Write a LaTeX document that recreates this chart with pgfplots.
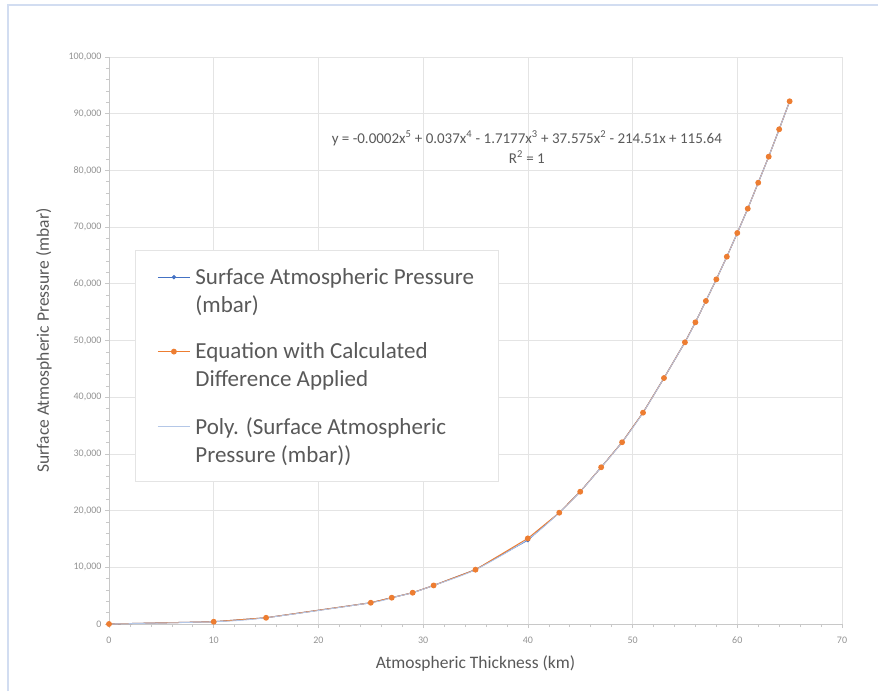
\documentclass[border=0pt]{standalone}
\usepackage{pgfplots}
\pgfplotsset{compat=1.18}
\usepackage{fontspec}
\setmainfont{Carlito}
\definecolor{xlblue}{HTML}{4472C4}
\definecolor{xlorange}{HTML}{ED7D31}
\definecolor{trend}{HTML}{B4C7E7}
\definecolor{gridc}{HTML}{E4E4E4}
\definecolor{axc}{HTML}{C8C8C8}
\definecolor{txt}{HTML}{595959}
\begin{document}
\begin{tikzpicture}
\path[use as bounding box] (-109pt,-67pt) rectangle (769pt,624pt);
\draw[color=trend!60, line width=1.5pt] (-101pt,-67pt) -- (-101pt,619pt) -- (769pt,619pt);
\begin{axis}[
  at={(0pt,0pt)}, anchor=south west,
  scale only axis, width=733pt, height=567pt,
  xmin=0, xmax=70, ymin=0, ymax=100000,
  xtick={0,10,20,30,40,50,60,70}, ytick={0,10000,20000,30000,40000,50000,60000,70000,80000,90000,100000},
  xticklabels={0,10,20,30,40,50,60,70},
  yticklabels={0,{10,000},{20,000},{30,000},{40,000},{50,000},{60,000},{70,000},{80,000},{90,000},{100,000}},
  minor x tick num=4, minor y tick num=4,
  axis lines*=left,
  axis line style={axc, line width=0.8pt},
  tick style={axc, line width=0.6pt},
  major tick length=4pt, minor tick length=3pt,
  tick align=outside,
  grid=major, major grid style={gridc, line width=0.6pt},
  scaled y ticks=false,
  ticklabel style={font=\fontsize{10}{12}\selectfont, text=txt!65},
  xticklabel style={yshift=-5pt},
  xlabel={Atmospheric Thickness (km)},
  ylabel={Surface Atmospheric Pressure (mbar)},
  label style={font=\fontsize{17.5}{20}\selectfont, text=txt},
  xlabel style={yshift=-5pt},
  ylabel style={yshift=10pt},
  legend style={at={(rel axis cs:0.0355,0.6596)}, anchor=north west,
    draw=gridc, line width=0.8pt, fill=white,
    font=\fontsize{23}{28}\selectfont, text=txt,
    cells={align=left, anchor=west}, row sep=25pt,
    inner xsep=22pt, inner ysep=16pt},
  legend cell align=left,
  legend image code/.code={\draw[#1, mark repeat=2, mark phase=2, yshift=14pt] plot coordinates {(0pt,0pt) (16pt,0pt) (32pt,0pt)};},
  clip=false,
]
\addplot[color=xlblue, line width=1pt, mark=*, mark size=1.6pt, mark options={fill=xlblue, draw=xlblue}] coordinates {
(0,0) (10,400) (15,1100) (25,3750) (27,4640) (29,5520) (31,6800) (35,9580)
(40,14800) (43,19630) (45,23330) (47,27640) (49,32050) (51,37270) (53,43380)
(55,49680) (56,53210) (57,56970) (58,60790) (59,64780) (60,68960) (61,73250)
(62,77830) (63,82420) (64,87250) (65,92190)};
\addlegendentry{\hspace{3pt}Surface Atmospheric Pressure\\\hspace{3pt}(mbar)}
\addplot[color=xlorange, line width=1pt, mark=*, mark size=2.4pt, mark options={fill=xlorange, draw=xlorange}] coordinates {
(0,0) (10,400) (15,1100) (25,3750) (27,4640) (29,5520) (31,6800) (35,9580)
(40,15100) (43,19630) (45,23330) (47,27640) (49,32050) (51,37270) (53,43380)
(55,49680) (56,53210) (57,56970) (58,60790) (59,64780) (60,68960) (61,73250)
(62,77830) (63,82420) (64,87250) (65,92190)};
\addlegendentry{\hspace{3pt}Equation with Calculated\\\hspace{3pt}Difference Applied}
\addplot[color=trend, line width=0.8pt, smooth, mark=none] coordinates {
(0,0) (10,400) (15,1100) (25,3750) (27,4640) (29,5520) (31,6800) (35,9580)
(40,14950) (43,19630) (45,23330) (47,27640) (49,32050) (51,37270) (53,43380)
(55,49680) (56,53210) (57,56970) (58,60790) (59,64780) (60,68960) (61,73250)
(62,77830) (63,82420) (64,87250) (65,92190)};
\addlegendentry{\hspace{3pt}Poly. (Surface Atmospheric\\\hspace{3pt}Pressure (mbar))}
\node[font=\fontsize{15}{20}\selectfont, text=txt, align=center] at (axis cs:39.9,84100)
  {y = -0.0002x\textsuperscript{5} + 0.037x\textsuperscript{4} - 1.7177x\textsuperscript{3} + 37.575x\textsuperscript{2} - 214.51x + 115.64\\R\textsuperscript{2} = 1};
\end{axis}
\end{tikzpicture}
\end{document}
